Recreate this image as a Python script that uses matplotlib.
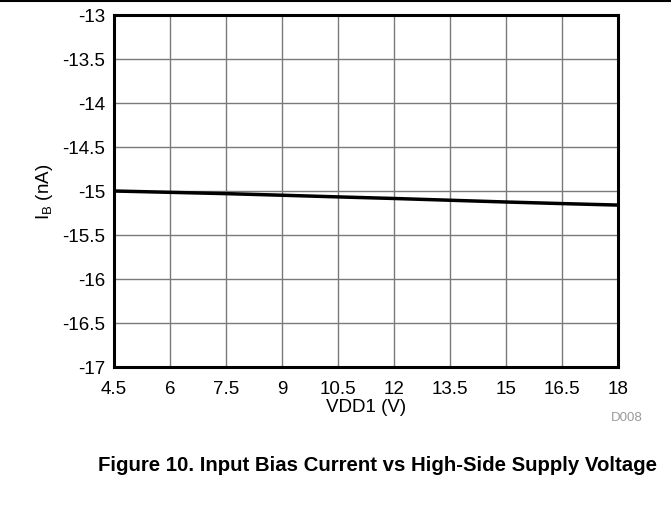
import matplotlib
matplotlib.use("Agg")
import matplotlib.pyplot as plt
from matplotlib.lines import Line2D

plt.rcParams['font.family'] = ['Liberation Sans', 'DejaVu Sans']

vdd1 = [4.5, 6, 7.5, 9, 10.5, 12, 13.5, 15, 16.5, 18]
ib_na = [-15.00, -15.015, -15.03, -15.048, -15.067, -15.085, -15.105, -15.125, -15.143, -15.16]

xticks = [4.5, 6, 7.5, 9, 10.5, 12, 13.5, 15, 16.5, 18]
xtick_labels = ["4.5", "6", "7.5", "9", "10.5", "12", "13.5", "15", "16.5", "18"]
yticks = [-17, -16.5, -16, -15.5, -15, -14.5, -14, -13.5, -13]
ytick_labels = ["-17", "-16.5", "-16", "-15.5", "-15", "-14.5", "-14", "-13.5", "-13"]

W, H = 671, 506
fig = plt.figure(figsize=(W / 100, H / 100), dpi=100)
left, right, top, bottom = 114, 618, 16, 368
ax = fig.add_axes([left / W, 1 - bottom / H, (right - left) / W, (bottom - top) / H])

ax.plot(vdd1, ib_na, color='black', lw=2.5, zorder=3)
ax.set_xlim(4.5, 18)
ax.set_ylim(-17, -13)
ax.set_xticks(xticks)
ax.set_xticklabels(xtick_labels)
ax.set_yticks(yticks)
ax.set_yticklabels(ytick_labels)
ax.grid(True, color='#7a7a7a', lw=1.0)
ax.set_axisbelow(True)
for s in ax.spines.values():
    s.set_linewidth(2.2)
    s.set_color('black')
ax.tick_params(axis='x', length=0, labelsize=13.5, pad=9)
ax.tick_params(axis='y', length=0, labelsize=13.5, pad=6.5)
ax.set_xlabel("VDD1 (V)", fontsize=13.5, labelpad=1)
ax.set_ylabel("I$_\\mathregular{B}$ (nA)", fontsize=13.5, labelpad=5)

fig.text(627 / W, 1 - 418.5 / H, "D008", fontsize=9.5, color='#9a9a9a', ha='center', va='center')
fig.text(377 / W, 1 - 466 / H, "Figure 10. Input Bias Current vs High-Side Supply Voltage",
         fontsize=14.7, fontweight='bold', ha='center', va='center')

fig.add_artist(Line2D([0, 1], [1 - 1.5 / H, 1 - 1.5 / H], color='black', lw=1.5, transform=fig.transFigure))

fig.savefig("out.png", dpi=100)
